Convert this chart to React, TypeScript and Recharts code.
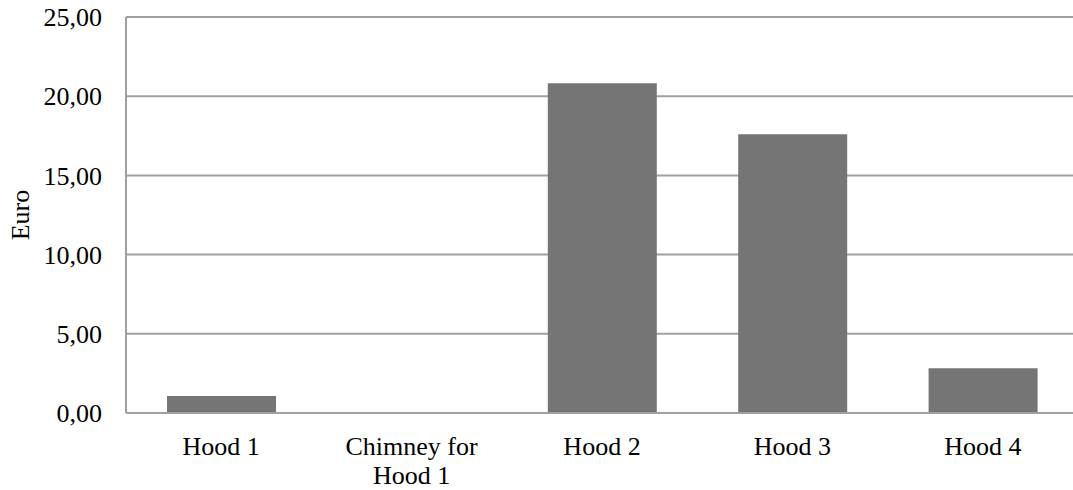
import { BarChart, Bar, XAxis, YAxis, CartesianGrid } from "recharts"

// Costs per item, in euro
const categories = ["Hood 1", "Chimney for Hood 1", "Hood 2", "Hood 3", "Hood 4"]
const costs = [1.07, 0, 20.81, 17.59, 2.82]
const yTicks = [0, 5, 10, 15, 20, 25]

const data = categories.map((name, i) => ({ name, value: costs[i] }))

const FONT = "'Liberation Serif', 'Times New Roman', serif"
const GRID = "#a0a0a0"

// split long labels into lines of roughly 12 characters
const wrapLabel = (label: string, maxChars = 12) => {
  const words = label.split(" ")
  const lines: string[] = []
  let current = ""
  words.forEach((w) => {
    const next = current ? `${current} ${w}` : w
    if (next.length > maxChars && current) {
      lines.push(current)
      current = w
    } else {
      current = next
    }
  })
  if (current) lines.push(current)
  return lines
}

const CategoryTick = ({ x, y, payload }: any) => {
  const lines = wrapLabel(payload.value)
  return (
    <text x={x} y={y} textAnchor="middle" fontFamily={FONT} fontSize={26} fill="#000">
      {lines.map((line, i) => (
        <tspan key={i} x={x} dy={i === 0 ? 40 : 29}>
          {line}
        </tspan>
      ))}
    </text>
  )
}

const formatEuro = (v: number) => v.toFixed(2).replace(".", ",")

export default function App() {
  return (
    <div
      style={{
        position: "absolute",
        left: 0,
        top: 0,
        width: 1073,
        height: 490,
        overflow: "hidden",
        background: "#fff",
      }}
    >
      {/* plot runs a few pixels past the right edge */}
      <BarChart
        width={1078}
        height={490}
        data={data}
        margin={{ top: 17, right: 0, bottom: 0, left: 0 }}
        barSize={109}
      >
        <CartesianGrid vertical={false} stroke={GRID} strokeWidth={2} />
        <XAxis
          dataKey="name"
          height={77}
          tick={<CategoryTick />}
          tickLine={false}
          tickSize={0}
          axisLine={{ stroke: GRID, strokeWidth: 2 }}
          interval={0}
        />
        <YAxis
          width={126}
          domain={[0, 25]}
          ticks={yTicks}
          tickFormatter={formatEuro}
          tickLine={false}
          tickSize={0}
          tickMargin={24}
          axisLine={{ stroke: GRID, strokeWidth: 2 }}
          tick={{ fontFamily: FONT, fontSize: 26, fill: "#000" }}
          label={({ viewBox }: any) => (
            <text
              x={20}
              y={viewBox.y + viewBox.height / 2}
              transform={`rotate(-90, 20, ${viewBox.y + viewBox.height / 2})`}
              textAnchor="middle"
              dominantBaseline="central"
              fontFamily={FONT}
              fontSize={26}
              fill="#000"
            >
              Euro
            </text>
          )}
        />
        <Bar dataKey="value" fill="#757575" isAnimationActive={false} />
      </BarChart>
    </div>
  )
}
